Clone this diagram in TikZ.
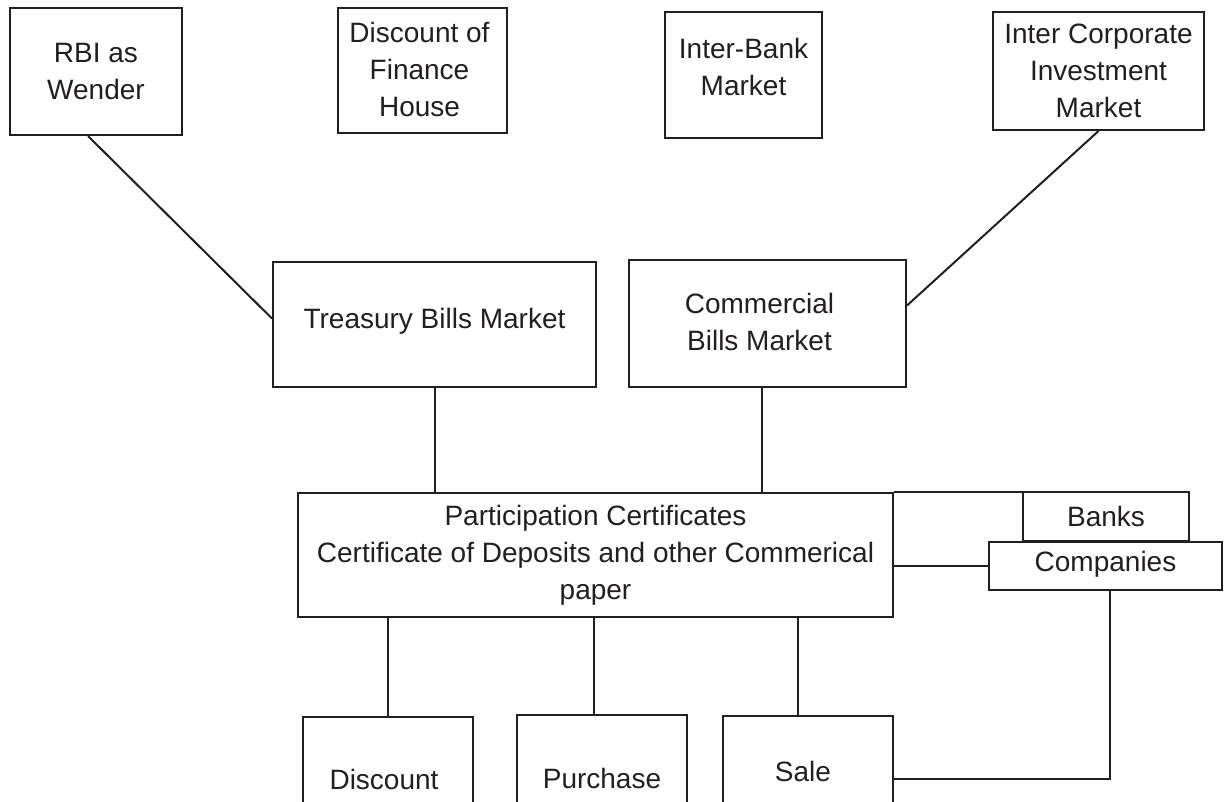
\documentclass[tikz,border=0pt]{standalone}
\usepackage{fontspec}
\setmainfont{Liberation Sans}
\usetikzlibrary{calc}
\definecolor{ink}{HTML}{231F20}
\tikzset{
  box/.style={draw=ink, line width=2pt, inner sep=0pt},
  txt/.style={text=ink, inner sep=0pt, align=center, font=\fontsize{28}{37}\selectfont},
  link/.style={draw=ink, line width=2pt}
}
\begin{document}
\begin{tikzpicture}[x=1pt,y=-1pt]
\useasboundingbox (0,0) rectangle (1225,801);
\clip (0,0) rectangle (1225,801);
\fill[white] (0,0) rectangle (1225,801);
% top row
\node[box, minimum width=172pt, minimum height=127pt] (rbi) at (96,71.5) {};
\node[txt] (trbi) at (rbi.center) {RBI as\\Wender};
\node[box, minimum width=169pt, minimum height=125pt] (dfh) at (422.5,70.5) {};
\node[txt] (tdfh) at ([xshift=-3pt,yshift=1pt]dfh.center) {Discount of\\Finance\\House};
\node[box, minimum width=157pt, minimum height=126pt] (ibm) at (743.5,75) {};
\node[txt] (tibm) at ([yshift=8pt]ibm.center) {Inter-Bank\\Market};
\node[box, minimum width=211pt, minimum height=118pt] (ici) at (1098.5,71) {};
\node[txt] (tici) at (ici.center) {Inter Corporate\\Investment\\Market};
% middle row
\node[box, minimum width=323pt, minimum height=125pt] (tbm) at (434.5,324.5) {};
\node[txt] (ttbm) at ([yshift=3pt]tbm.center) {Treasury Bills Market};
\node[box, minimum width=277pt, minimum height=127pt] (cbm) at (767.5,323.5) {};
\node[txt] (tcbm) at ([xshift=-8pt,yshift=2pt]cbm.center) {Commercial\\Bills Market};
% central box
\node[box, minimum width=595pt, minimum height=124pt] (pc) at (595.5,555) {};
\node[txt] (tpc) at (pc.center) {Participation Certificates\\Certificate of Deposits and other Commerical\\paper};
\node[box, minimum width=166pt, minimum height=49pt] (banks) at (1106,516.5) {};
\node[txt] (tbanks) at (banks.center) {Banks};
\node[box, minimum width=233pt, minimum height=48pt] (comp) at (1105.5,566) {};
\node[txt] (tcomp) at ([yshift=2pt]comp.center) {Companies};
% bottom row (boxes run past the lower edge)
\node[box, minimum width=170pt, minimum height=112pt] (disc) at (388,773) {};
\node[txt] (tdisc) at ([xshift=-4pt,yshift=-6pt]disc.center) {Discount};
\node[box, minimum width=170pt, minimum height=114pt] (pur) at (602,772) {};
\node[txt] (tpur) at ([yshift=-6pt]pur.center) {Purchase};
\node[box, minimum width=170pt, minimum height=112pt] (sale) at (808,772) {};
\node[txt] (tsale) at ([xshift=-5pt,yshift=1pt]sale.center) {Sale};
% connectors
\draw[link] ([xshift=-8pt]rbi.south) -- ([yshift=6pt]tbm.west);
\draw[link] (ici.south) -- ([yshift=18pt]cbm.east);
\draw[link] (tbm.south) -- (tbm.south |- pc.north);
\draw[link] ([xshift=-6pt]cbm.south) -- ([xshift=-6pt]cbm.south |- pc.north);
\draw[link] (disc.north |- pc.south) -- (disc.north);
\draw[link] ([xshift=-8pt]pur.north |- pc.south) -- ([xshift=-8pt]pur.north);
\draw[link] ([xshift=-10pt]sale.north |- pc.south) -- ([xshift=-10pt]sale.north);
\draw[link] (pc.north east) -- (pc.north east -| banks.west);
\draw[link] (comp.west -| pc.east) -- (comp.west);
\draw[link] ([xshift=4pt]comp.south) |- ([yshift=-7pt]sale.east);
\end{tikzpicture}
\end{document}
